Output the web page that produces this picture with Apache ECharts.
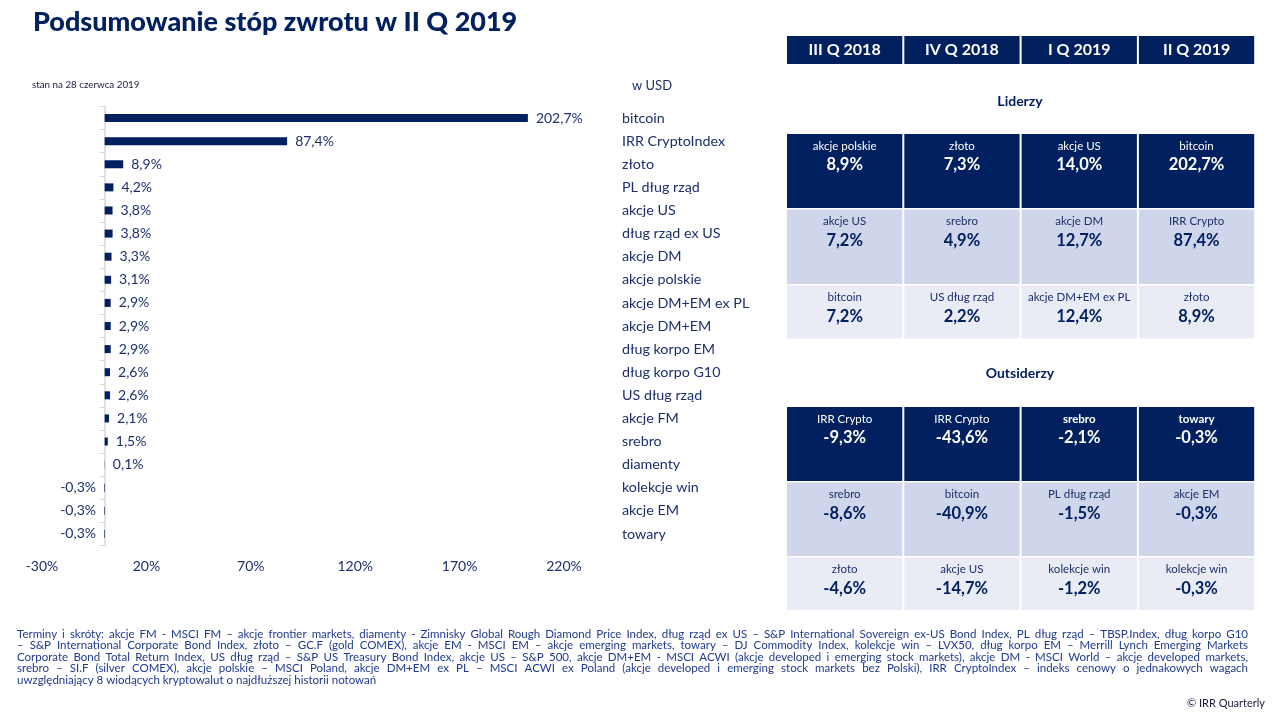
<!DOCTYPE html>
<html>
<head>
<meta charset="utf-8">
<script src="https://cdn.jsdelivr.net/npm/echarts@6/dist/echarts.min.js"></script>
<style>
html,body{margin:0;padding:0;background:#fff;}
#chart{width:1273px;height:716px;}
</style>
</head>
<body>
<div id="chart"></div>
<script>
// ---------- DATA ----------
const categories = ['bitcoin','IRR CryptoIndex','złoto','PL dług rząd','akcje US','dług rząd ex US','akcje DM','akcje polskie','akcje DM+EM ex PL','akcje DM+EM','dług korpo EM','dług korpo G10','US dług rząd','akcje FM','srebro','diamenty','kolekcje win','akcje EM','towary'];
const returns = [202.7,87.4,8.9,4.2,3.8,3.8,3.3,3.1,2.9,2.9,2.9,2.6,2.6,2.1,1.5,0.1,-0.3,-0.3,-0.3];
const xTicks = [-30,20,70,120,170,220];

const quarters = ['III Q 2018','IV Q 2018','I Q 2019','II Q 2019'];
const leaderNames = [
  ['akcje polskie','złoto','akcje US','bitcoin'],
  ['akcje US','srebro','akcje DM','IRR Crypto'],
  ['bitcoin','US dług rząd','akcje DM+EM ex PL','złoto']
];
const leaderValues = [
  [8.9,7.3,14.0,202.7],
  [7.2,4.9,12.7,87.4],
  [7.2,2.2,12.4,8.9]
];
const outsiderNames = [
  ['IRR Crypto','IRR Crypto','srebro','towary'],
  ['srebro','bitcoin','PL dług rząd','akcje EM'],
  ['złoto','akcje US','kolekcje win','kolekcje win']
];
const outsiderValues = [
  [-9.3,-43.6,-2.1,-0.3],
  [-8.6,-40.9,-1.5,-0.3],
  [-4.6,-14.7,-1.2,-0.3]
];
const boldOutsiderNames = [[false,false,true,true],[false,false,false,false],[false,false,false,false]];

const titleText = 'Podsumowanie stóp zwrotu w II Q 2019';
const subtitleText = 'stan na 28 czerwca 2019';
const unitText = 'w USD';
const footerLines = [
  'Terminy i skróty: akcje FM - MSCI FM – akcje frontier markets, diamenty - Zimnisky Global Rough Diamond Price Index, dług rząd ex US – S&P International Sovereign ex-US Bond Index, PL dług rząd – TBSP.Index, dług korpo G10',
  '– S&P International Corporate Bond Index, złoto – GC.F (gold COMEX), akcje EM - MSCI EM – akcje emerging markets, towary – DJ Commodity Index, kolekcje win – LVX50, dług korpo EM – Merrill Lynch Emerging Markets',
  'Corporate Bond Total Return Index, US dług rząd – S&P US Treasury Bond Index, akcje US – S&P 500, akcje DM+EM - MSCI ACWI (akcje developed i emerging stock markets), akcje DM - MSCI World – akcje developed markets,',
  'srebro – SI.F (silver COMEX), akcje polskie – MSCI Poland, akcje DM+EM ex PL – MSCI ACWI ex Poland (akcje developed i emerging stock markets bez Polski), IRR CryptoIndex – indeks cenowy o jednakowych wagach',
  'uwzględniający 8 wiodących kryptowalut o najdłuższej historii notowań'
];
const copyrightText = '© IRR Quarterly';

// ---------- STYLE ----------
const NAVY = '#002060';
const TXT = '#1c2f6b';
const FONT = 'Lato, "Open Sans", sans-serif';
const fmt = v => v.toFixed(1).replace('.', ',') + '%';

const chart = echarts.init(document.getElementById('chart'), null, {renderer: 'canvas'});

const graphics = [];
const addText = (x, y, text, o) => graphics.push({
  type: 'text', x: x, y: y, silent: true,
  style: Object.assign({text: text, fill: TXT, font: '13px ' + FONT, textVerticalAlign: 'middle'}, o || {})
});

addText(33, 22, titleText, {font: '900 27px ' + FONT, fill: NAVY});
addText(32, 85, subtitleText, {font: '9.8px ' + FONT, fill: '#1a1a40'});
addText(632, 86, unitText, {font: '13px ' + FONT});

// table
const colX = [787, 904.3, 1021.6, 1138.9];
const colW = 115.3;
quarters.forEach((q, i) => {
  graphics.push({type: 'rect', silent: true, shape: {x: colX[i], y: 36, width: colW, height: 28}, style: {fill: NAVY}});
  addText(colX[i] + colW / 2, 50, q, {font: 'bold 16px ' + FONT, fill: '#fff', textAlign: 'center'});
});
addText(1020, 101, 'Liderzy', {font: 'bold 14px ' + FONT, fill: NAVY, textAlign: 'center'});
addText(1020, 373, 'Outsiderzy', {font: 'bold 14px ' + FONT, fill: NAVY, textAlign: 'center'});

const rowFills = [NAVY, '#cfd5ea', '#e9ebf5'];
function drawBlock(rows, names, values, bolds) {
  rows.forEach((r, ri) => {
    const dark = ri === 0;
    for (let c = 0; c < 4; c++) {
      graphics.push({type: 'rect', silent: true, shape: {x: colX[c], y: r[0], width: colW, height: r[1] - r[0]}, style: {fill: rowFills[ri]}});
      const bold = bolds && bolds[ri][c];
      addText(colX[c] + colW / 2, r[0] + 12, names[ri][c], {font: (bold ? 'bold ' : '') + '11.5px ' + FONT, fill: dark ? '#fff' : TXT, textAlign: 'center'});
      addText(colX[c] + colW / 2, r[0] + 31, fmt(values[ri][c]), {font: 'bold 16.5px ' + FONT, fill: dark ? '#fff' : NAVY, textAlign: 'center'});
    }
  });
}
drawBlock([[134, 208], [209.5, 284], [285.5, 338.5]], leaderNames, leaderValues, null);
drawBlock([[407, 481], [482.5, 556], [557.5, 610]], outsiderNames, outsiderValues, boldOutsiderNames);

// footer (justified)
const mctx = document.createElement('canvas').getContext('2d');
const footFont = '11.5px ' + FONT;
mctx.font = footFont;
const footY = [634, 645.5, 657, 668.5, 680];
footerLines.forEach((line, li) => {
  if (li === footerLines.length - 1) {
    addText(17, footY[li], line, {font: footFont, fill: '#1f3a8f'});
    return;
  }
  const words = line.split(' ');
  const widths = words.map(w => mctx.measureText(w).width);
  const total = widths.reduce((a, b) => a + b, 0);
  const gap = (1248 - 17 - total) / (words.length - 1);
  let x = 17;
  words.forEach((w, wi) => {
    addText(x, footY[li], w, {font: footFont, fill: '#1f3a8f'});
    x += widths[wi] + gap;
  });
});
addText(1265, 703, copyrightText, {font: '11px ' + FONT, fill: '#1a1a40', textAlign: 'right'});

const option = {
  animation: false,
  grid: {left: 42, right: 709, top: 106.5, bottom: 170.5, outerBoundsMode: 'none', containLabel: false},
  xAxis: {
    type: 'value', min: -30, max: 220,
    axisLine: {show: false}, axisTick: {show: false}, splitLine: {show: false},
    axisLabel: {customValues: xTicks, formatter: v => v + '%', color: TXT, fontSize: 14, fontFamily: FONT, margin: 14}
  },
  yAxis: [
    {
      type: 'category', data: categories, inverse: true, position: 'left',
      axisLine: {show: true, onZero: true, lineStyle: {color: '#d9d9d9', width: 1.5}},
      axisTick: {show: true, length: 5, lineStyle: {color: '#d9d9d9'}},
      axisLabel: {show: false}
    },
    {
      type: 'category', data: categories, inverse: true, position: 'right',
      axisLine: {show: false}, axisTick: {show: false},
      axisLabel: {color: TXT, fontSize: 14.3, fontFamily: FONT, margin: 58, align: 'left'}
    }
  ],
  series: [{
    type: 'bar', yAxisIndex: 0, barWidth: 8,
    itemStyle: {color: NAVY},
    data: returns.map(v => ({
      value: v,
      label: {position: v < 0 ? 'left' : 'right'}
    })),
    label: {show: true, distance: 8, formatter: p => fmt(p.value), color: TXT, fontSize: 14, fontFamily: FONT}
  }],
  graphic: graphics
};
chart.setOption(option);
</script>
</body>
</html>
